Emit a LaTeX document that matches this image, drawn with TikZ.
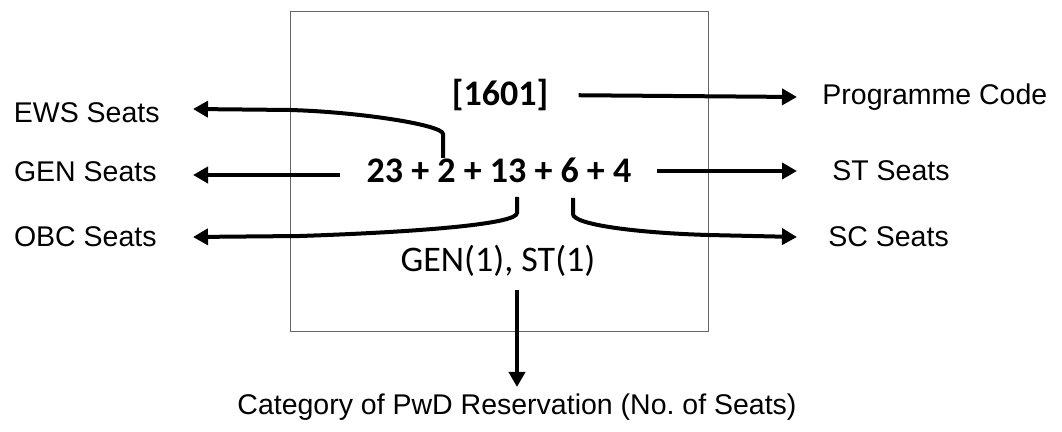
\documentclass[tikz,border=0pt]{standalone}
\usepackage{fontspec}
\setmainfont{Liberation Sans}
\newfontfamily\calibri{Carlito}
\usetikzlibrary{arrows.meta,positioning}
\begin{document}
\begin{tikzpicture}[x=0.5pt,y=-0.5pt,>={Triangle[length=7.5pt,width=8pt]},
    lbl/.style={inner sep=0pt,font=\fontsize{14.25}{17}\selectfont},
    inbox/.style={inner sep=0pt,font=\calibri\fontsize{18}{21}\selectfont},
    inboxbf/.style={inner sep=0pt,font=\calibri\bfseries\fontsize{18}{21}\selectfont},
    arr/.style={->,line width=2pt}]
    \useasboundingbox (0,0) rectangle (1062,432);
    \draw[gray!80!black,line width=0.5pt] (290,12) rectangle (708,332);
    \node[inboxbf] (code) at (500,95) {[1601]};
    \node[inboxbf] (nums) at (499,170) {23 + 2 + 13 + 6 + 4};
    \node[inbox] (pwd) at (498,261) {GEN(1), ST(1)};
    % taps on the numbers
    \coordinate (ewstap) at (443,158);
    \coordinate (obctap) at (517,197);
    \coordinate (sctap) at (573,198);
    \coordinate (pwdtap) at (517,290);
    % arrow tips
    \coordinate (ewstip) at (193,109);
    \coordinate (gentip) at (193,175);
    \coordinate (obctip) at (193,237);
    \coordinate (codetip) at (797,97);
    \coordinate (sttip) at (797,171);
    \coordinate (sctip) at (797,237);
    \coordinate (pwdtip) at (517,387);
    \node[lbl,left=16.5pt of ewstip,yshift=-2pt] (ews) {EWS Seats};
    \node[lbl,left=18pt of gentip,yshift=1.5pt] (gen) {GEN Seats};
    \node[lbl,left=18pt of obctip] (obc) {OBC Seats};
    \node[lbl,right=12.5pt of codetip] (prog) {Programme Code};
    \node[lbl,right=17.5pt of sttip] (st) {ST Seats};
    \node[lbl,right=15.5pt of sctip] (sc) {SC Seats};
    \node[lbl,below=3pt of pwdtip] (cat) {Category of PwD Reservation (No.\ of Seats)};
    \draw[arr,shorten <=15pt] (code.east) -- (codetip);
    \draw[arr,shorten <=12.5pt] (nums.east |- sttip) -- (sttip);
    \draw[arr,shorten <=13pt] (nums.west |- gentip) -- (gentip);
    \draw[arr] (ewstap) -- (443,134) .. controls (443,125) and (360,112) .. (290,110) -- (ewstip);
    \draw[arr] (obctap) -- (517,213) .. controls (517,224) and (420,232) .. (300,236) -- (obctip);
    \draw[arr] (sctap) -- (573,214) .. controls (573,225) and (640,233) .. (708,235) -- (sctip);
    \draw[arr] (pwdtap) -- (pwdtip);
\end{tikzpicture}
\end{document}
